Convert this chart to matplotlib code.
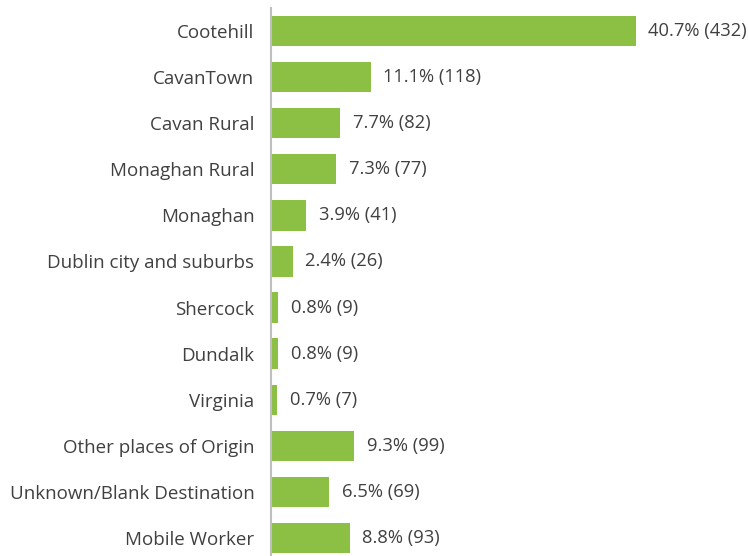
import matplotlib.pyplot as plt

# ---------------------------------------------------------------------------
# Data
# ---------------------------------------------------------------------------
places = [
    "Cootehill",
    "CavanTown",
    "Cavan Rural",
    "Monaghan Rural",
    "Monaghan",
    "Dublin city and suburbs",
    "Shercock",
    "Dundalk",
    "Virginia",
    "Other places of Origin",
    "Unknown/Blank Destination",
    "Mobile Worker",
]
percents = [40.7, 11.1, 7.7, 7.3, 3.9, 2.4, 0.8, 0.8, 0.7, 9.3, 6.5, 8.8]
counts = [432, 118, 82, 77, 41, 26, 9, 9, 7, 99, 69, 93]

BAR_COLOR = "#8cc044"
TEXT_COLOR = "#404040"

plt.rcParams["font.family"] = ["Open Sans", "DejaVu Sans"]

fig = plt.figure(figsize=(7.48, 5.56), dpi=100)
# axes spans 8px from top down to slightly below the figure edge
ax = fig.add_axes([271 / 748, -5 / 556, 1 - 271 / 748, 553 / 556])

y = list(range(len(places)))
ax.barh(y, percents, height=0.66, color=BAR_COLOR)

for yi, p, c in zip(y, percents, counts):
    ax.text(p + 1.4, yi, f"{p}% ({c})", va="center", ha="left",
            fontsize=13.2, color=TEXT_COLOR)

ax.set_yticks(y)
ax.set_yticklabels(places, fontsize=13.5, color=TEXT_COLOR)
ax.tick_params(axis="y", length=0, pad=12)
ax.set_xticks([])
ax.set_xlim(0, 53.2)
ax.set_ylim(len(places) - 0.5, -0.5)

for side in ["top", "right", "bottom"]:
    ax.spines[side].set_visible(False)
ax.spines["left"].set_color("#bfbfbf")
ax.spines["left"].set_linewidth(1.5)

fig.savefig("out.png", dpi=100)
